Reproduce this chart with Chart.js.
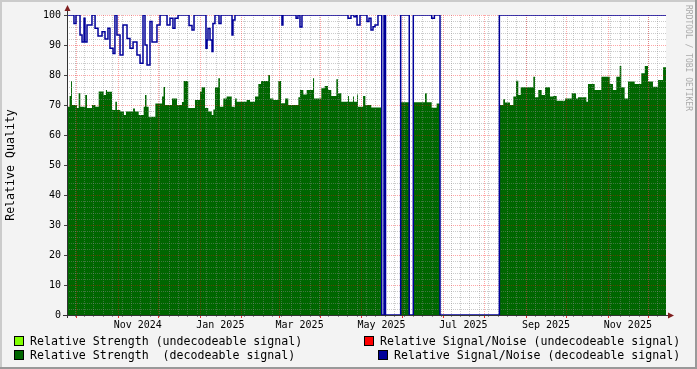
<!DOCTYPE html>
<html>
<head>
<meta charset="utf-8">
<script src="https://cdn.jsdelivr.net/npm/chart.js@4.4.0/dist/chart.umd.min.js"></script>
<style>
  html, body { margin: 0; padding: 0; background: #f3f3f3; }
  canvas { display: block; }
</style>
</head>
<body>
<canvas id="quality" width="697" height="369"></canvas>
<script>
// x values are days counted from 1 Oct 2024
const xMin = -6.7;
const xMax = 439.4;

// Relative Strength (decodeable signal), each value holds until the next day entry
const strengthDays = [
  -6.7, -4.8, -3.7, -3.0, 0.7, 2.0, 3.2, 6.9, 8.2, 11.9, 14.4, 16.9, 20.6, 22.3, 23.1,
  26.8, 29.3, 30.5, 33.0, 35.7, 37.2, 42.5, 43.9, 46.7, 50.4, 51.4, 52.5, 54.1, 59.1,
  64.1, 65.2, 66.3, 71.5, 75.2, 78.9, 80.2, 83.6, 88.6, 92.4, 93.6, 96.1, 98.5, 101.1,
  102.3, 103.5, 106.0, 107.2, 109.7, 112.2, 116.0, 118.4, 119.7, 127.1, 129.6, 133.3,
  135.8, 137.8, 143.2, 144.5, 147.0, 150.7, 152.7, 155.7, 158.1, 165.6, 166.8, 169.3,
  171.8, 176.5, 177.3, 182.7, 185.2, 187.7, 190.1, 193.9, 195.1, 197.6, 202.6, 203.3,
  206.3, 207.0, 209.3, 210.0, 213.8, 215.5, 219.9, 227.7, 241.8, 248.2, 251.2, 259.9,
  261.2, 264.9, 268.6, 271.1, 315.3, 318.2, 319.5, 323.2, 325.7, 327.7, 329.4, 331.2,
  340.6, 341.8, 344.3, 346.8, 349.3, 353.0, 355.5, 358.0, 364.2, 369.2, 372.4, 373.9,
  380.1, 381.3, 386.3, 391.2, 397.5, 399.9, 402.4, 404.9, 406.1, 408.6, 411.1, 416.1,
  421.0, 423.6, 426.0, 429.7, 433.5, 437.2, 439.4
];
const strengthValues = [
  69.4, 73, 78, 70, 69, 74, 69.4, 73.3, 69, 70, 69.4, 74.5, 73.3, 75, 74.4,
  68.3, 71.1, 68.3, 67.8, 66.7, 67.8, 68.8, 67.8, 66.7, 69.4, 73.3, 69.4, 66.1, 70.5,
  72.8, 76, 70, 72.2, 70, 71, 78, 69, 71.7, 74.4, 75.9, 69, 67.8, 66.7,
  68.5, 75.9, 78.9, 69.4, 72.2, 72.8, 69.4, 72.2, 71.1, 71.7, 71.1, 72.8,
  77, 78, 80, 72.2, 71.7, 78, 70.6, 72.2, 70, 72.6, 75, 73.5,
  75, 78.9, 72.2, 75.6, 76.3, 75, 73, 78.6, 73.9, 71.1, 73, 71.1,
  72.8, 71.1, 73.5, 69.4, 73, 70, 69.2, 0, 70.9, 0, 70.9, 73.9,
  70.9, 69.1, 70.5, 0, 70, 71.9, 70.8, 70, 72.8, 78.1, 73.3, 75.9,
  79.4, 72.6, 75, 73.3, 75.9, 72.8, 73, 71.4, 72.2, 73.9, 72.2, 72.6,
  71.1, 77, 75, 79.4, 77, 75, 79.4, 83, 75.9, 72.2, 77.8, 77,
  80.6, 83, 77.8, 76.1, 78.3, 82.6, 82.6
];

// Relative Signal/Noise (decodeable signal)
const snrDays = [
  -6.7, -1.5, 0, 3, 4.5, 6, 6.7, 8.2, 11.9, 14.2, 16.4, 19.4, 21.6, 23.8, 25.3, 27.6,
  29, 30.5, 32.8, 35, 38, 40.2, 42.5, 45.4, 47.7, 49.9, 51.4, 52.9, 55.1, 56.6, 60.3,
  62.6, 67.8, 70, 72.2, 73.7, 76, 84.2, 86.4, 87.9, 96.8, 97.6, 98.3, 99.8, 101.3, 102,
  103.5, 106.5, 108, 116.2, 116.9, 118.4, 153.4, 154.1, 163.9, 165.3, 166.8, 168.3,
  202.6, 204.8, 207, 208.5, 209.3, 211.5, 216.7, 218.2, 219.7, 221.2, 222.7, 224.9,
  227.7, 229.4, 230.5, 241.8, 248.2, 251.2, 264.9, 266.9, 271.1, 315.3, 439.4
];
const snrValues = [
  100, 97.2, 100, 93.3, 91, 98.9, 91, 96.7, 100, 95.6, 93, 94.4, 92, 95.6, 88.9, 87.2,
  100, 93.3, 86.7, 96.7, 92.2, 88.9, 91, 86.7, 83.9, 100, 90, 83.3, 97.8, 91, 96.7,
  100, 96.7, 98.9, 95.6, 98.9, 100, 96.5, 95, 100, 88.9, 91.7, 95.5, 91.7, 87.8, 97.2,
  100, 97.2, 100, 93.3, 98.3, 100, 96.7, 100, 98.9, 100, 96, 100,
  98.9, 100, 99.4, 100, 96.7, 100, 97.8, 98.9, 95, 96.1, 96.7, 100,
  0, 100, 0, 100, 0, 100, 98.9, 100, 0, 100, 100
];

// axis labels and grid
const monthStarts = [0, 31, 61, 92, 123, 151, 182, 212, 243, 273, 304, 335, 365, 396, 426];
const labelDays = [46, 107.5, 166.5, 227.5, 288.5, 350, 411];
const labelTexts = ['Nov 2024', 'Jan 2025', 'Mar 2025', 'May 2025', 'Jul 2025', 'Sep 2025', 'Nov 2025'];

const legendLabels = [
  'Relative Strength (undecodeable signal)',
  'Relative Strength  (decodeable signal)',
  'Relative Signal/Noise (undecodeable signal)',
  'Relative Signal/Noise (decodeable signal)'
];
const legendColors = ['#80ff00', '#006600', '#ff0000', '#000099'];

const mono = '"DejaVu Sans Mono", monospace';

function drawGrid(chart) {
  const { ctx, chartArea: a, scales: { x, y } } = chart;
  ctx.save();
  ctx.beginPath();
  ctx.rect(a.left, a.top, a.right - a.left, a.bottom - a.top);
  ctx.clip();
  ctx.lineWidth = 1;
  ctx.setLineDash([1, 1]);

  ctx.strokeStyle = 'rgba(140,140,140,0.45)';
  ctx.beginPath();
  for (let d = -1; d <= xMax; d += 7) {
    const px = Math.round(x.getPixelForValue(d)) + 0.5;
    ctx.moveTo(px, a.top); ctx.lineTo(px, a.bottom);
  }
  for (let v = 2; v < 100; v += 2) {
    if (v % 10 === 0) continue;
    const py = Math.round(y.getPixelForValue(v)) + 0.5;
    ctx.moveTo(a.left, py); ctx.lineTo(a.right, py);
  }
  ctx.stroke();

  ctx.strokeStyle = 'rgba(255,0,0,0.35)';
  ctx.beginPath();
  monthStarts.forEach(d => {
    const px = Math.round(x.getPixelForValue(d)) + 0.5;
    ctx.moveTo(px, a.top); ctx.lineTo(px, a.bottom);
  });
  for (let v = 10; v <= 100; v += 10) {
    const py = Math.round(y.getPixelForValue(v)) + 0.5;
    ctx.moveTo(a.left, py); ctx.lineTo(a.right, py);
  }
  ctx.stroke();
  ctx.restore();
}

const rrdLook = {
  id: 'rrdLook',
  beforeDraw(chart) {
    const { ctx, chartArea: a } = chart;
    ctx.save();
    ctx.fillStyle = '#f3f3f3';
    ctx.fillRect(0, 0, chart.width, chart.height);
    ctx.fillStyle = '#ffffff';
    ctx.fillRect(a.left, a.top, a.right - a.left, a.bottom - a.top);
    ctx.restore();
  },
  afterDatasetDraw(chart, args) {
    if (args.index === 0) drawGrid(chart);
  },
  afterDraw(chart) {
    const { ctx, chartArea: a, scales: { x, y } } = chart;
    ctx.save();

    // tick marks
    ctx.lineWidth = 1;
    ctx.strokeStyle = '#444';
    ctx.beginPath();
    for (let v = 0; v <= 100; v += 10) {
      const py = Math.round(y.getPixelForValue(v)) + 0.5;
      ctx.moveTo(a.left - 3, py); ctx.lineTo(a.left + 1, py);
    }
    ctx.stroke();
    ctx.strokeStyle = 'rgba(120,120,120,0.8)';
    ctx.beginPath();
    for (let d = -1; d <= xMax; d += 7) {
      const px = Math.round(x.getPixelForValue(d)) + 0.5;
      ctx.moveTo(px, a.bottom); ctx.lineTo(px, a.bottom + 2);
    }
    ctx.stroke();
    ctx.strokeStyle = 'rgba(220,0,0,0.8)';
    ctx.beginPath();
    monthStarts.forEach(d => {
      const px = Math.round(x.getPixelForValue(d)) + 0.5;
      ctx.moveTo(px, a.bottom); ctx.lineTo(px, a.bottom + 3);
    });
    ctx.stroke();

    // axes
    ctx.strokeStyle = '#333';
    ctx.beginPath();
    ctx.moveTo(a.left + 0.5, a.bottom + 3); ctx.lineTo(a.left + 0.5, a.top - 5);
    ctx.moveTo(a.left - 4, a.bottom + 0.5); ctx.lineTo(a.right + 3, a.bottom + 0.5);
    ctx.stroke();
    ctx.fillStyle = '#7f1f1f';
    ctx.beginPath();
    ctx.moveTo(a.left - 2.5, a.top - 4); ctx.lineTo(a.left + 3.5, a.top - 4); ctx.lineTo(a.left + 0.5, a.top - 10);
    ctx.closePath(); ctx.fill();
    ctx.beginPath();
    ctx.moveTo(a.right + 2, a.bottom - 2.5); ctx.lineTo(a.right + 2, a.bottom + 3.5); ctx.lineTo(a.right + 8, a.bottom + 0.5);
    ctx.closePath(); ctx.fill();

    // legend
    const spots = [[15, 30, 341], [15, 30, 355], [365, 380, 341], [379, 394, 355]];
    ctx.font = '11.6px ' + mono;
    ctx.textBaseline = 'middle';
    legendLabels.forEach((t, i) => {
      const [bx, tx, ty] = spots[i];
      ctx.fillStyle = legendColors[i];
      ctx.fillRect(bx, ty - 4, 8, 8);
      ctx.strokeStyle = '#000';
      ctx.strokeRect(bx - 0.5, ty - 4.5, 9, 9);
      ctx.fillStyle = '#000';
      ctx.fillText(t, tx, ty + 0.5);
    });

    // watermark
    ctx.save();
    ctx.translate(688, 5);
    ctx.rotate(Math.PI / 2);
    ctx.font = '8px ' + mono;
    ctx.fillStyle = '#aaa';
    ctx.textBaseline = 'middle';
    ctx.fillText('RRDTOOL / TOBI OETIKER', 0, 0);
    ctx.restore();

    // frame
    ctx.fillStyle = '#cbcbcb';
    ctx.fillRect(0, 0, chart.width, 2);
    ctx.fillRect(0, 0, 2, chart.height);
    ctx.fillStyle = '#999';
    ctx.fillRect(0, chart.height - 2, chart.width, 2);
    ctx.fillRect(chart.width - 2, 0, 2, chart.height);
    ctx.restore();
  }
};

new Chart(document.getElementById('quality'), {
  type: 'line',
  data: {
    datasets: [{
      label: legendLabels[1],
      data: strengthDays.map((d, i) => ({ x: d, y: strengthValues[i] })),
      stepped: true,
      fill: 'origin',
      backgroundColor: '#006600',
      borderColor: 'rgba(0,0,0,0)',
      borderWidth: 0,
      pointRadius: 0,
      order: 1
    }, {
      label: legendLabels[3],
      data: snrDays.map((d, i) => ({ x: d, y: snrValues[i] })),
      stepped: true,
      fill: false,
      borderColor: '#000099',
      borderWidth: 1.5,
      pointRadius: 0,
      order: 0
    }]
  },
  options: {
    responsive: false,
    animation: false,
    events: [],
    layout: { padding: { top: 15, right: 31, bottom: 34, left: 0 } },
    plugins: { legend: { display: false }, tooltip: { enabled: false } },
    scales: {
      x: {
        type: 'linear',
        bounds: 'data',
        min: xMin,
        max: xMax,
        grid: { display: false, drawTicks: false },
        border: { display: false },
        afterBuildTicks: s => { s.ticks = labelDays.map(v => ({ value: v })); },
        afterFit: s => { s.height = 20; },
        ticks: {
          autoSkip: false, maxRotation: 0, padding: 4, color: '#000',
          font: { family: mono, size: 10 },
          callback: (v, i) => labelTexts[i]
        }
      },
      y: {
        min: 0,
        max: 100,
        grid: { display: false, drawTicks: false },
        border: { display: false },
        afterFit: s => { s.width = 67; },
        ticks: { stepSize: 10, padding: 6, color: '#000', font: { family: mono, size: 10 } },
        title: {
          display: true, text: 'Relative Quality', color: '#000',
          font: { family: mono, size: 11.6 }, padding: { top: 4, bottom: 0 }
        }
      }
    }
  },
  plugins: [rrdLook]
});
</script>
</body>
</html>
